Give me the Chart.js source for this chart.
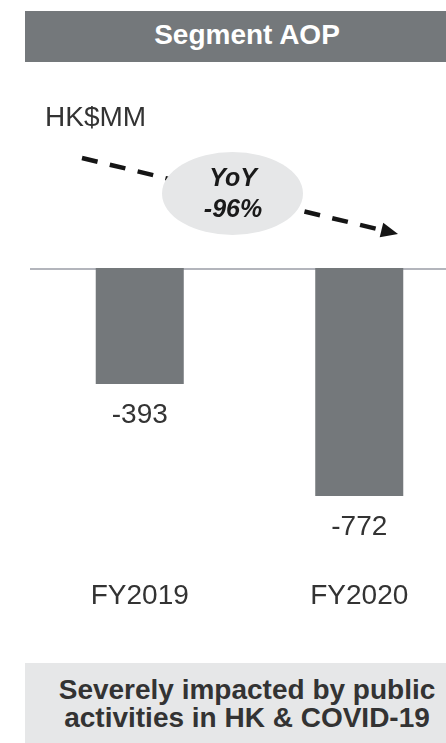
<!DOCTYPE html>
<html>
<head>
<meta charset="utf-8">
<script src="https://cdn.jsdelivr.net/npm/chart.js@4"></script>
<style>
  html, body { margin: 0; padding: 0; background: #fff; overflow: hidden; }
  #wrap { position: relative; width: 470px; height: 743px; font-family: "Liberation Sans", Arial, sans-serif; }
  #chart { position: absolute; left: 0; top: 0; }
  .header {
    position: absolute; left: 25px; top: 11px; width: 444px; height: 51px;
    background: #74787b; color: #fff; font-weight: bold; font-size: 28px;
    line-height: 47px; text-align: center;
  }
  .footer {
    position: absolute; left: 25px; top: 663px; width: 444px; height: 80px;
    background: #e6e7e8; color: #333; font-weight: bold; font-size: 28px;
    line-height: 28px; text-align: center; box-sizing: border-box; padding-top: 13px;
  }
</style>
</head>
<body>
<div id="wrap">
  <div class="header">Segment AOP</div>
  <canvas id="chart" width="470" height="629"></canvas>
  <div class="footer">Severely impacted by public<br>activities in HK &amp; COVID-19</div>
</div>
<script>
// Daten
const categories = ['FY2019', 'FY2020'];
const aopValues = [-393, -772];
const unitLabel = 'HK$MM';
const yoyLines = ['YoY', '-96%'];

const FONT = '"Liberation Sans", Arial, sans-serif';
const TEXT_COLOR = '#333333';
const BAR_COLOR = '#74787b';

// Nulllinie unter den Balken
const zeroLinePlugin = {
  id: 'zeroLine',
  beforeDatasetsDraw(chart) {
    const { ctx, chartArea, scales } = chart;
    const y = scales.y.getPixelForValue(0) + 1;
    ctx.save();
    ctx.strokeStyle = '#9a9da6';
    ctx.lineWidth = 1.6;
    ctx.beginPath();
    ctx.moveTo(chartArea.left, y);
    ctx.lineTo(chartArea.right, y);
    ctx.stroke();
    ctx.restore();
  }
};

// Wertebeschriftung unter den Balken
const valueLabelPlugin = {
  id: 'valueLabels',
  afterDatasetsDraw(chart) {
    const { ctx } = chart;
    const meta = chart.getDatasetMeta(0);
    ctx.save();
    ctx.font = '28px ' + FONT;
    ctx.fillStyle = TEXT_COLOR;
    ctx.textAlign = 'center';
    ctx.textBaseline = 'middle';
    meta.data.forEach((bar, i) => {
      ctx.fillText(String(aopValues[i]), bar.x, bar.y + 31);
    });
    ctx.restore();
  }
};

// Einheit, Pfeil und YoY-Blase
const annotationPlugin = {
  id: 'yoyArrow',
  afterDraw(chart) {
    const { ctx } = chart;
    ctx.save();

    ctx.font = '28px ' + FONT;
    ctx.fillStyle = TEXT_COLOR;
    ctx.textAlign = 'left';
    ctx.textBaseline = 'alphabetic';
    ctx.fillText(unitLabel, 45, 126);

    // gestrichelter Pfeil
    const x0 = 82, y0 = 158, x1 = 398, y1 = 234;
    const ang = Math.atan2(y1 - y0, x1 - x0);
    const headLen = 17;
    const hx = x1 - headLen * Math.cos(ang), hy = y1 - headLen * Math.sin(ang);
    ctx.strokeStyle = '#151515';
    ctx.lineWidth = 4.5;
    ctx.setLineDash([16, 12.6]);
    ctx.beginPath();
    ctx.moveTo(x0, y0);
    ctx.lineTo(hx, hy);
    ctx.stroke();
    ctx.setLineDash([]);
    ctx.fillStyle = '#151515';
    ctx.beginPath();
    ctx.moveTo(x1, y1);
    ctx.lineTo(hx + 7.5 * Math.sin(ang), hy - 7.5 * Math.cos(ang));
    ctx.lineTo(hx - 7.5 * Math.sin(ang), hy + 7.5 * Math.cos(ang));
    ctx.closePath();
    ctx.fill();

    // Ellipse
    ctx.fillStyle = '#e6e7e8';
    ctx.beginPath();
    ctx.ellipse(232.5, 193.5, 70.5, 41.5, 0, 0, Math.PI * 2);
    ctx.fill();

    ctx.fillStyle = '#1a1a1a';
    ctx.font = 'italic bold 25px ' + FONT;
    ctx.textAlign = 'center';
    ctx.fillText(yoyLines[0], 233, 186);
    ctx.fillText(yoyLines[1], 233, 216.5);
    ctx.restore();
  }
};

new Chart(document.getElementById('chart'), {
  type: 'bar',
  data: {
    labels: categories,
    datasets: [{
      data: aopValues,
      backgroundColor: BAR_COLOR,
      borderWidth: 0,
      barPercentage: 0.401,
      categoryPercentage: 1
    }]
  },
  options: {
    responsive: false,
    animation: false,
    events: [],
    layout: { padding: { top: 268, left: 30, right: 1, bottom: 0 } },
    plugins: {
      legend: { display: false },
      tooltip: { enabled: false }
    },
    scales: {
      x: {
        grid: { display: false, drawTicks: false },
        border: { display: false },
        ticks: { color: TEXT_COLOR, padding: 16, font: { family: FONT, size: 28 } }
      },
      y: { display: false, min: -1000, max: 0 }
    }
  },
  plugins: [zeroLinePlugin, valueLabelPlugin, annotationPlugin]
});
</script>
</body>
</html>
